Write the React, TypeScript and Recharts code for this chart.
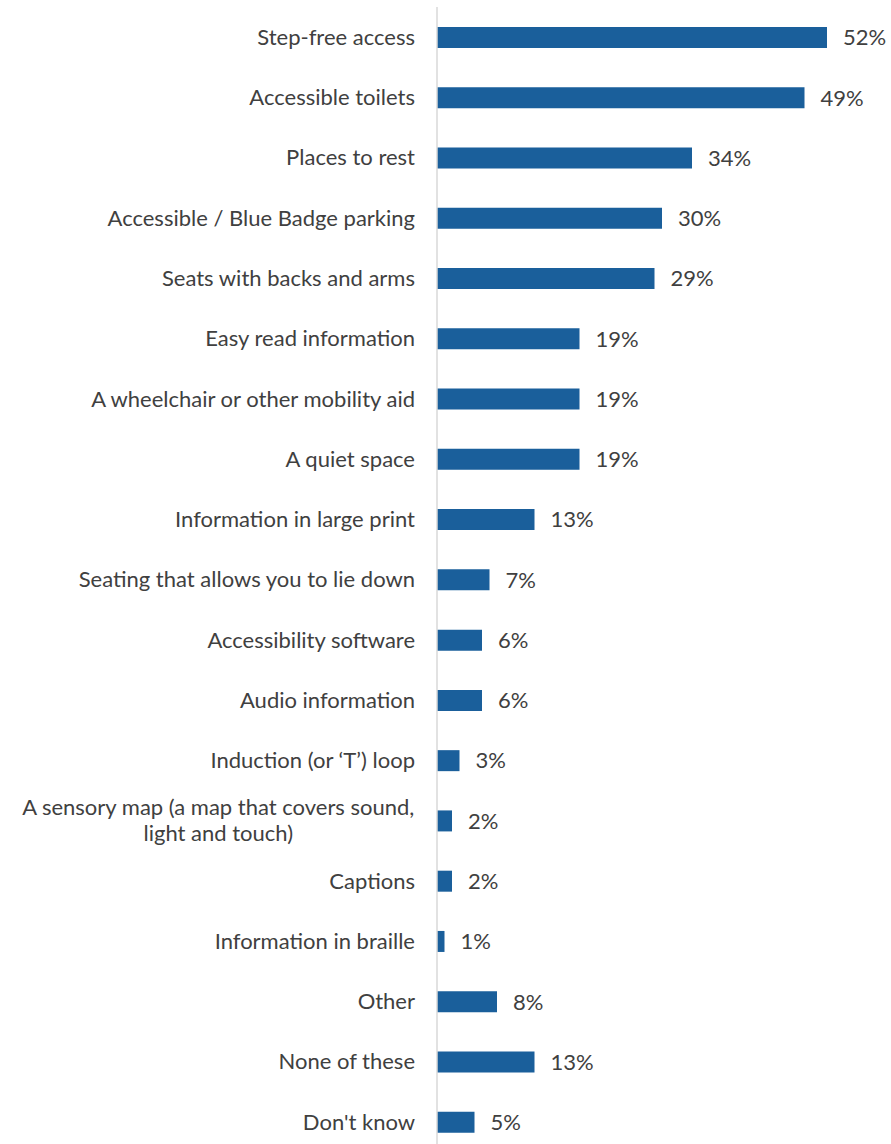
import { BarChart, Bar, XAxis, YAxis, LabelList } from "recharts";

const categories = [
  "Step-free access",
  "Accessible toilets",
  "Places to rest",
  "Accessible / Blue Badge parking",
  "Seats with backs and arms",
  "Easy read information",
  "A wheelchair or other mobility aid",
  "A quiet space",
  "Information in large print",
  "Seating that allows you to lie down",
  "Accessibility software",
  "Audio information",
  "Induction (or \u2018T\u2019) loop",
  "A sensory map (a map that covers sound,\nlight and touch)",
  "Captions",
  "Information in braille",
  "Other",
  "None of these",
  "Don't know",
];

const values = [52, 49, 34, 30, 29, 19, 19, 19, 13, 7, 6, 6, 3, 2, 2, 1, 8, 13, 5];

const data = categories.map((name, i) => ({ name, value: values[i] }));

const FONT = "Lato, 'Open Sans', sans-serif";
const TEXT = "#404040";
const FONT_SIZE = 22;

let ctx: CanvasRenderingContext2D | null = null;
function measure(s: string) {
  if (!ctx) ctx = document.createElement("canvas").getContext("2d");
  if (!ctx) return s.length * 11;
  ctx.font = `${FONT_SIZE}px Lato`;
  return ctx.measureText(s).width;
}

const CategoryTick = (props: any) => {
  const { x, y, payload } = props;
  const lines: string[] = String(payload.value).split("\n");
  if (lines.length === 1) {
    return (
      <text x={x} y={y} dy="0.355em" textAnchor="end" fill={TEXT} fontSize={FONT_SIZE} fontFamily={FONT}>
        {lines[0]}
      </text>
    );
  }
  const cx = x - measure(lines[0]) / 2;
  return (
    <text textAnchor="middle" fill={TEXT} fontSize={FONT_SIZE} fontFamily={FONT}>
      {lines.map((l, i) => (
        <tspan key={i} x={cx} y={y + (i - (lines.length - 1) / 2) * 26} dy="0.355em">
          {l}
        </tspan>
      ))}
    </text>
  );
};

export default function App() {
  return (
    <div
      style={{
        position: "absolute",
        top: 7,
        left: 8,
        width: 883,
        height: 1137,
        overflow: "hidden",
      }}
    >
      <BarChart
        width={883}
        height={1145}
        data={data}
        layout="vertical"
        margin={{ top: 0, right: 4, bottom: 0, left: 0 }}
      >
        <XAxis type="number" domain={[0, 60]} hide />
        <YAxis
          type="category"
          dataKey="name"
          width={429}
          interval={0}
          tickSize={0}
          tickMargin={22}
          tickLine={false}
          axisLine={{ stroke: "#d9d9d9", strokeWidth: 1.5 }}
          tick={<CategoryTick />}
        />
        <Bar dataKey="value" fill="#1a5f9b" barSize={21} isAnimationActive={false}>
          <LabelList
            dataKey="value"
            position="right"
            offset={16}
            formatter={(v: any) => `${v}%`}
            fill={TEXT}
            fontSize={FONT_SIZE}
            fontFamily={FONT}
          />
        </Bar>
      </BarChart>
    </div>
  );
}
